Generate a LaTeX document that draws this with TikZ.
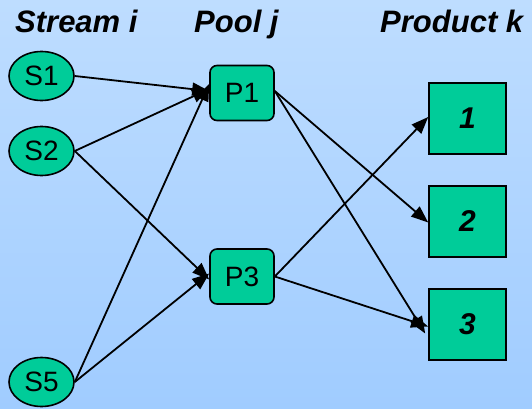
\documentclass[tikz,border=0pt]{standalone}
\usepackage{fontspec}
\setmainfont{Liberation Sans}
\usetikzlibrary{arrows.meta,shapes.geometric}
\definecolor{nodegreen}{RGB}{0,204,153}
\definecolor{bgtop}{RGB}{190,221,255}
\definecolor{bgbot}{RGB}{160,204,255}
\tikzset{
  stream/.style={ellipse,draw=black,line width=1.6pt,fill=nodegreen,
    minimum width=65pt,minimum height=49pt,inner sep=0pt,font=\fontsize{28}{30}\selectfont},
  pool/.style={rectangle,rounded corners=7pt,draw=black,line width=1.6pt,fill=nodegreen,
    minimum width=64pt,minimum height=55pt,inner sep=0pt,font=\fontsize{28}{30}\selectfont},
  product/.style={rectangle,draw=black,line width=1.6pt,fill=nodegreen,
    minimum width=77pt,minimum height=71pt,inner sep=0pt,font=\fontsize{30}{32}\selectfont\bfseries\itshape},
  heading/.style={anchor=base west,inner sep=0pt,font=\fontsize{31}{33}\selectfont\bfseries\itshape},
  flow/.style={line width=1.8pt,-{Triangle[length=17pt,width=13pt]}},
}
\begin{document}
\begin{tikzpicture}[x=1pt,y=-1pt]
  % backdrop
  \shade[top color=bgtop,bottom color=bgbot] (0,0) rectangle (532,409);
  \useasboundingbox (0,0) rectangle (532,409);

  % column headings
  \node[heading] (hs) at (15,33) {Stream i};
  \node[heading] (hp) at (194,33) {Pool j};
  \node[heading] (hk) at (380,33) {Product k};

  % streams
  \node[stream] (S1) at (41.5,76) {S1};
  \node[stream] (S2) at (41.5,151) {S2};
  \node[stream] (S5) at (41.5,382) {S5};

  % pools
  \node[pool] (P1) at (242,93) {P1};
  \node[pool] (P3) at (242,276.5) {P3};

  % products
  \node[product] (K1) at (467.5,118.5) {1};
  \node[product] (K2) at (467.5,221.5) {2};
  \node[product] (K3) at (467.5,324.5) {3};

  % flows from streams to pools
  \draw[flow] (S1.east) -- ([yshift=2pt]P1.west);
  \draw[flow] (S2.east) -- ([yshift=4pt]P1.west);
  \draw[flow] (S5.east) -- ([yshift=9pt]P1.west);
  \draw[flow] (S2.east) -- ([yshift=-3pt]P3.west);
  \draw[flow] (S5.east) -- ([yshift=3pt]P3.west);

  % flows from pools to products
  \coordinate (P1out) at ([yshift=2pt]P1.east);
  \coordinate (P3out) at (P3.east);
  \draw[flow] (P1out) -- ([yshift=-1pt]K2.west);
  \draw[flow] (P1out) -- ([xshift=-3pt,yshift=-9pt]K3.west);
  \draw[flow] (P3out) -- ([yshift=1.5pt]K1.west);
  \draw[flow] (P3out) -- ([yshift=-2pt]K3.west);
\end{tikzpicture}
\end{document}
